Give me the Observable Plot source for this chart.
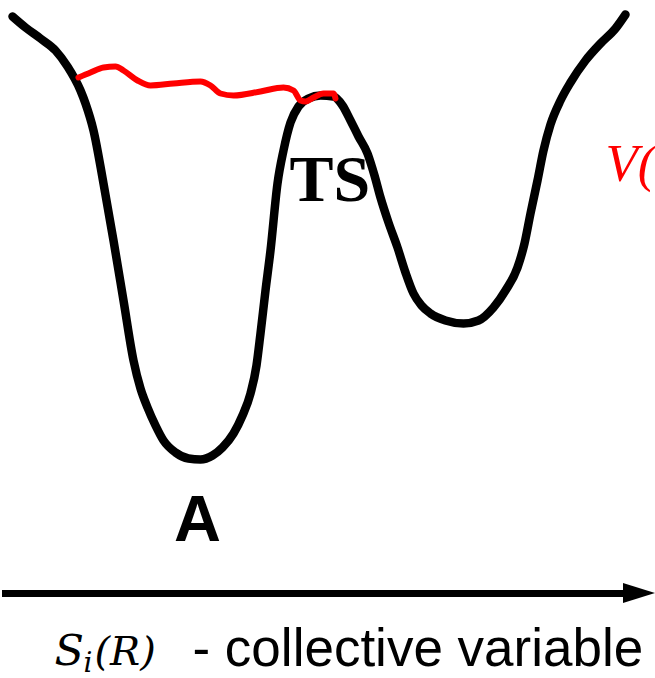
<!DOCTYPE html>
<html>
<head>
<meta charset="utf-8">
<script src="https://cdn.jsdelivr.net/npm/d3@7"></script>
<script src="https://cdn.jsdelivr.net/npm/@observablehq/plot@0.6"></script>
<style>
  html, body { margin: 0; padding: 0; background: #fff; }
  svg { display: block; }
</style>
</head>
<body>
<div id="chart"></div>
<script>
// Free-energy profile along the collective variable (x = CV, y = depth, screen-down)
const freeEnergyX = [12,25,40,55,67,80,85,93,103,113,123,133,140,147,155,163,175,188,200,212,222,233,242,250,256,260,265,270,277,283,290,298,308,320,333,342,350,358,367,374,380,388,397,405,413,421,430,445,463,478,493,505,517,524,530,537,543,550,560,570,585,600,615,625];
const freeEnergyY = [16,27,38,50,66,90,103,130,183,240,300,360,388,407,425,440,452,458,459,455,447,433,415,393,365,333,290,250,183,150,122,106,98,95,96,105,120,136,153,175,197,222,247,272,293,305,313,320,323,320,307,290,267,243,213,180,150,124,100,82,60,43,28,14];

// Bias potential V(S) filling the basin
const biasX = [78,90,103,115,123,137,150,173,200,210,220,233,260,283,293,300,305,313,323,333,335];
const biasY = [77,72,67,66,70,80,85,83,81,85,93,95,91,87,90,100,101,97,93,93,98];

// Axis arrow
const axisY = 593;
const axisStart = 2;
const axisHeadBase = 623;
const axisEnd = 655;
const axisHalfHead = 10;

// Labels
const labelTS = "TS";
const labelA = "A";
const labelV = "V(";
const labelS = "S";
const labelSub = "i";
const labelArg = "(R)";
const labelCV = "- collective variable";

const black = freeEnergyX.map((x, i) => ({x, y: freeEnergyY[i]}));
const bias = biasX.map((x, i) => ({x, y: biasY[i]}));
const head = [
  {x: axisHeadBase, y1: axisY - axisHalfHead, y2: axisY + axisHalfHead},
  {x: axisEnd, y1: axisY, y2: axisY}
];

const serif = "'Liberation Serif', 'Times New Roman', serif";
const mathSerif = "'DejaVu Serif', serif";
const sans = "'Liberation Sans', Arial, sans-serif";

const chart = Plot.plot({
  width: 655,
  height: 678,
  margin: 0,
  x: {domain: [0, 655], axis: null},
  y: {domain: [0, 678], range: [0, 678], axis: null},
  marks: [
    Plot.line(black, {x: "x", y: "y", curve: "monotone-x", stroke: "black", strokeWidth: 8.5}),
    Plot.line(bias, {x: "x", y: "y", curve: "monotone-x", stroke: "#ff0000", strokeWidth: 6}),
    Plot.ruleY([axisY], {x1: axisStart, x2: axisHeadBase + 2, stroke: "black", strokeWidth: 7}),
    Plot.areaY(head, {x: "x", y1: "y1", y2: "y2", fill: "black"}),
    Plot.text([labelTS], {x: 289, y: 200, text: d => d, textAnchor: "start", lineAnchor: "bottom", fontSize: 66, fontWeight: "bold", fontFamily: serif, fill: "black"}),
    Plot.text([labelA], {x: 197, y: 540, text: d => d, textAnchor: "middle", lineAnchor: "bottom", fontSize: 65, fontWeight: "bold", fontFamily: sans, fill: "black"}),
    Plot.text([labelV], {x: 605, y: 180, text: d => d, textAnchor: "start", lineAnchor: "bottom", fontSize: 53, fontStyle: "italic", fontFamily: serif, fill: "#ff0000"}),
    Plot.text([labelS], {x: 54, y: 664, text: d => d, textAnchor: "start", lineAnchor: "bottom", fontSize: 43, fontStyle: "italic", fontFamily: mathSerif, fill: "black"}),
    Plot.text([labelSub], {x: 83, y: 671, text: d => d, textAnchor: "start", lineAnchor: "bottom", fontSize: 28, fontStyle: "italic", fontFamily: mathSerif, fill: "black"}),
    Plot.text([labelArg], {x: 94, y: 664, text: d => d, textAnchor: "start", lineAnchor: "bottom", fontSize: 40, fontStyle: "italic", fontFamily: mathSerif, fill: "black"}),
    Plot.text([labelCV], {x: 192, y: 665, text: d => d, textAnchor: "start", lineAnchor: "bottom", fontSize: 53, fontFamily: sans, fill: "black"})
  ]
});
document.getElementById("chart").appendChild(chart);
</script>
</body>
</html>
